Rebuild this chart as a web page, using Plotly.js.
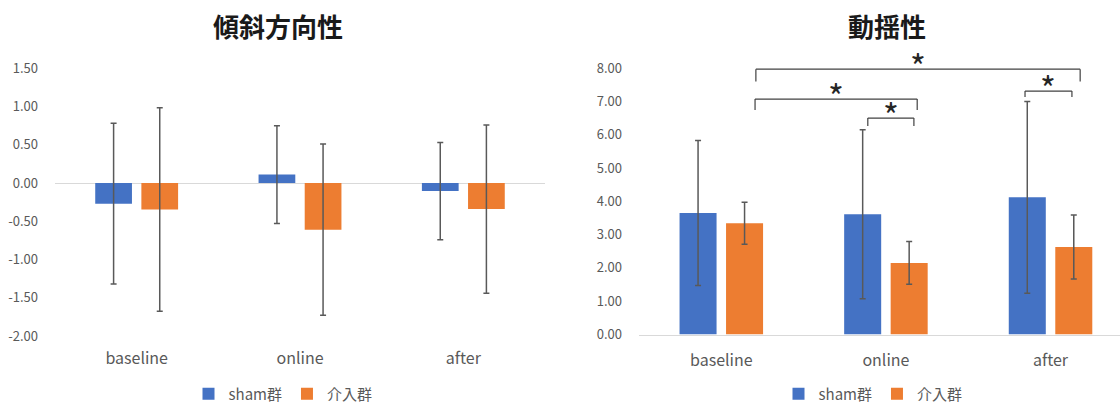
<!DOCTYPE html>
<html>
<head>
<meta charset="utf-8">
<script src="https://cdn.plot.ly/plotly-3.0.1.min.js"></script>
<style>html,body{margin:0;padding:0;background:#fff;}#chart{width:1120px;height:403px;}</style>
</head>
<body>
<div id="chart"></div>
<script>
// ---- data ----
const categories = ['baseline', 'online', 'after'];
const seriesNames = ['sham群', '介入群'];

const tiltSham = [-0.27, 0.11, -0.105];
const tiltShamErr = [1.05, 0.64, 0.635];
const tiltInt = [-0.345, -0.61, -0.34];
const tiltIntErr = [1.33, 1.12, 1.10];

const swaySham = [3.65, 3.61, 4.12];
const swayShamErr = [2.18, 2.54, 2.88];
const swayInt = [3.34, 2.15, 2.63];
const swayIntErr = [0.63, 0.64, 0.96];

const tiltTicks = [-2, -1.5, -1, -0.5, 0, 0.5, 1, 1.5];
const tiltTickLabels = ['-2.00', '-1.50', '-1.00', '-0.50', '0.00', '0.50', '1.00', '1.50'];
const swayTicks = [0, 1, 2, 3, 4, 5, 6, 7, 8];
const swayTickLabels = ['0.00', '1.00', '2.00', '3.00', '4.00', '5.00', '6.00', '7.00', '8.00'];

const chartTitles = ['傾斜方向性', '動揺性'];
const sigMark = '*';

// significance brackets on the 動揺性 chart (category-index x, value y)
const bracketFrom = [0.21, 0.205, 0.89, 1.845];
const bracketTo = [2.18, 1.19, 1.17, 2.13];
const bracketLevel = [7.97, 7.07, 6.50, 7.31];
const bracketFoot = [7.60, 6.74, 6.26, 7.13];

// ---- styles ----
const BLUE = '#4472C4', ORANGE = '#ED7D31', GREY = '#595959';
const FONT = '"Noto Sans CJK JP", "Noto Sans", sans-serif';
const errStyle = (arr) => ({type: 'data', array: arr, visible: true, color: '#595959', thickness: 1.5, width: 3});

const traces = [
  {type: 'bar', name: seriesNames[0], x: categories, y: tiltSham, error_y: errStyle(tiltShamErr),
   marker: {color: BLUE}, xaxis: 'x', yaxis: 'y', legend: 'legend'},
  {type: 'bar', name: seriesNames[1], x: categories, y: tiltInt, error_y: errStyle(tiltIntErr),
   marker: {color: ORANGE}, xaxis: 'x', yaxis: 'y', legend: 'legend'},
  {type: 'bar', name: seriesNames[0], x: categories, y: swaySham, error_y: errStyle(swayShamErr),
   marker: {color: BLUE}, xaxis: 'x2', yaxis: 'y2', legend: 'legend2'},
  {type: 'bar', name: seriesNames[1], x: categories, y: swayInt, error_y: errStyle(swayIntErr),
   marker: {color: ORANGE}, xaxis: 'x2', yaxis: 'y2', legend: 'legend2'}
];

const shapes = [];
const annotations = [];
const lineStyle = {color: '#404040', width: 1.2};
for (let i = 0; i < bracketFrom.length; i++) {
  const common = {type: 'line', xref: 'x2', yref: 'y2', line: lineStyle, layer: 'above'};
  shapes.push(Object.assign({}, common, {x0: bracketFrom[i], x1: bracketFrom[i], y0: bracketFoot[i], y1: bracketLevel[i]}));
  shapes.push(Object.assign({}, common, {x0: bracketFrom[i], x1: bracketTo[i], y0: bracketLevel[i], y1: bracketLevel[i]}));
  shapes.push(Object.assign({}, common, {x0: bracketTo[i], x1: bracketTo[i], y0: bracketLevel[i], y1: bracketFoot[i]}));
  annotations.push({xref: 'x2', yref: 'y2', x: (bracketFrom[i] + bracketTo[i]) / 2, y: bracketLevel[i],
    text: sigMark, showarrow: false, xanchor: 'center', yanchor: 'middle', yshift: 4,
    font: {family: FONT, size: 34, color: '#262626'}});
}
annotations.push({xref: 'paper', yref: 'paper', x: 278 / 1120, y: 1 - 25 / 403, text: chartTitles[0],
  showarrow: false, xanchor: 'center', yanchor: 'middle', font: {family: FONT, size: 26, color: '#1a1a1a', weight: 'bold'}});
annotations.push({xref: 'paper', yref: 'paper', x: 887 / 1120, y: 1 - 25 / 403, text: chartTitles[1],
  showarrow: false, xanchor: 'center', yanchor: 'middle', font: {family: FONT, size: 26, color: '#1a1a1a', weight: 'bold'}});

const legendBase = {orientation: 'h', yanchor: 'middle', y: 1 - 394 / 403, xanchor: 'center',
  font: {family: FONT, size: 15, color: GREY}, bgcolor: 'rgba(0,0,0,0)', itemwidth: 30, traceorder: 'normal'};

const layout = {
  width: 1120, height: 403,
  margin: {l: 0, r: 0, t: 0, b: 0, pad: 0, autoexpand: false},
  paper_bgcolor: '#ffffff', plot_bgcolor: '#ffffff',
  font: {family: FONT, color: GREY},
  barmode: 'group', bargap: 0.435, bargroupgap: 0.204,
  showlegend: true,
  legend: Object.assign({}, legendBase, {x: 283 / 1120}),
  legend2: Object.assign({}, legendBase, {x: 873 / 1120}),
  xaxis: {domain: [55 / 1120, 545 / 1120], type: 'category', range: [-0.5, 2.5], anchor: 'y',
    showline: false, showgrid: false, zeroline: false, ticks: '', ticklabelstandoff: 11,
    tickfont: {family: FONT, size: 16, color: GREY}, fixedrange: true},
  yaxis: {domain: [1 - 336 / 403, 1 - 68.3 / 403], range: [-2, 1.5], anchor: 'x',
    tickmode: 'array', tickvals: tiltTicks, ticktext: tiltTickLabels,
    showgrid: false, showline: false, zeroline: true, zerolinecolor: '#d9d9d9', zerolinewidth: 1,
    ticks: '', ticklabelstandoff: 16, tickfont: {family: FONT, size: 13, color: GREY}},
  xaxis2: {domain: [639 / 1120, 1], type: 'category', range: [-0.5, 2.422], anchor: 'y2',
    showline: true, linecolor: '#d9d9d9', linewidth: 1, showgrid: false, zeroline: false, ticks: '',
    ticklabelstandoff: 11, tickfont: {family: FONT, size: 16, color: GREY}},
  yaxis2: {domain: [1 - 334.5 / 403, 1 - 64.8 / 403], range: [0, 8.1], anchor: 'x2',
    tickmode: 'array', tickvals: swayTicks, ticktext: swayTickLabels,
    showgrid: false, showline: false, zeroline: false,
    ticks: '', ticklabelstandoff: 16, tickfont: {family: FONT, size: 13, color: GREY}},
  shapes: shapes,
  annotations: annotations
};

Plotly.newPlot('chart', traces, layout, {displayModeBar: false, staticPlot: true});
</script>
</body>
</html>
